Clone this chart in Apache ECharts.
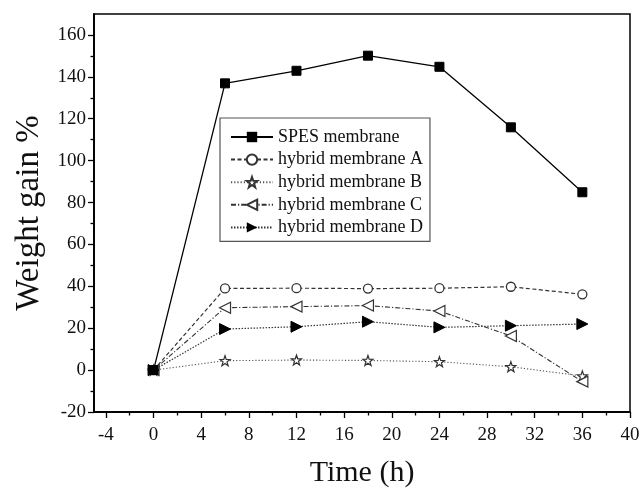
<!DOCTYPE html>
<html>
<head>
<meta charset="utf-8">
<script src="https://cdn.jsdelivr.net/npm/echarts@6/dist/echarts.min.js"></script>
<style>html,body{margin:0;padding:0;background:#fff}#main{width:640px;height:489px}</style>
</head>
<body>
<div id="main"></div>
<script>
// time points (h)
var times = [0, 6, 12, 18, 24, 30, 36];
// weight gain (%)
var spes = [0, 136.9, 142.9, 150.1, 144.8, 115.9, 84.9];
var hybridA = [0, 39.0, 39.1, 38.9, 39.1, 39.8, 36.2];
var hybridB = [0, 4.5, 4.8, 4.6, 4.0, 1.6, -2.8];
var hybridC = [0, 29.8, 30.3, 30.8, 28.2, 16.3, -5.5];
var hybridD = [0, 19.6, 20.7, 23.1, 20.4, 21.2, 22.0];
var names = ["SPES membrane", "hybrid membrane A", "hybrid membrane B", "hybrid membrane C", "hybrid membrane D"];

var xMajor = [-4, 0, 4, 8, 12, 16, 20, 24, 28, 32, 36, 40];
var xMinor = [-2, 2, 6, 10, 14, 18, 22, 26, 30, 34, 38];
var yMajor = [-20, 0, 20, 40, 60, 80, 100, 120, 140, 160];
var yMinor = [-10, 10, 30, 50, 70, 90, 110, 130, 150];

var font = "Liberation Serif";
var star = "path://M10,0L12.35,6.76L19.51,6.91L13.8,11.24L15.88,18.09L10,14L4.12,18.09L6.2,11.24L0.49,6.91L7.65,6.76Z";
var triLeft = "path://M0,5L10,0L10,10Z";
var triRight = "path://M0,0L10,5L0,10Z";

function pairs(vals) {
    return times.map(function(t, i) { return [t, vals[i]]; });
}

function axis(kind, major, minor, extra) {
    var base = {
        type: "value", min: kind == "x"? -5: -20, max: kind == "x"? 40: 170,
        splitLine: {show: false},
        axisLine: {show: true, onZero: false, lineStyle: {color: "#000", width: 1.5}},
    };
    var a = Object.assign({}, base, {
        axisTick: {show: true, inside: false, length: 6, customValues: major, lineStyle: {color: "#000", width: 1.3}},
        axisLabel: {customValues: major, color: "#111", fontFamily: font, fontSize: 19, margin: kind == "x"? 14: 8},
    }, extra);
    var b = Object.assign({}, base, {
        axisTick: {show: true, inside: false, length: 3.5, customValues: minor, lineStyle: {color: "#000", width: 1.3}},
        axisLabel: {show: false},
    }, kind == "x"? {position: "bottom"}: {position: "left"});
    return [a, b];
}

var chart = echarts.init(document.getElementById("main"));
chart.setOption({
    animation: false,
    backgroundColor: "#fff",
    grid: {left: 94, right: 10, top: 14, bottom: 77, show: true, borderColor: "#000", borderWidth: 1.5,
        containLabel: false, outerBoundsMode: "none"},
    legend: {
        orient: "vertical", left: 220, top: 118, data: names,
        itemWidth: 42, itemHeight: 13, itemGap: 4.6,
        padding: [10, 7, 5, 10],
        borderColor: "#555", borderWidth: 1.2,
        textStyle: {fontFamily: font, fontSize: 18, color: "#111"}
    },
    xAxis: axis("x", xMajor, xMinor, {
        position: "bottom", name: "Time (h)", nameLocation: "middle", nameGap: 46,
        nameTextStyle: {fontFamily: font, fontSize: 30, color: "#111"}
    }),
    yAxis: axis("y", yMajor, yMinor, {
        position: "left", name: "Weight gain %", nameLocation: "middle", nameGap: 48,
        nameTextStyle: {fontFamily: font, fontSize: 33, color: "#111"}
    }),
    series: [
        {name: names[0], type: "line", data: pairs(spes), z: 5,
            symbol: "rect", symbolSize: 9,
            lineStyle: {color: "#000", width: 1.3, type: "solid"},
            itemStyle: {color: "#000", borderColor: "#000"}},
        {name: names[1], type: "line", data: pairs(hybridA),
            symbol: "circle", symbolSize: 9,
            lineStyle: {color: "#333", width: 1.2, type: [4, 2.5]},
            itemStyle: {color: "#fff", borderColor: "#333", borderWidth: 1.3}},
        {name: names[2], type: "line", data: pairs(hybridB),
            symbol: star, symbolSize: 10,
            lineStyle: {color: "#555", width: 1.1, type: [1.2, 2]},
            itemStyle: {color: "#fff", borderColor: "#333", borderWidth: 1.2}},
        {name: names[3], type: "line", data: pairs(hybridC),
            symbol: triLeft, symbolSize: 11,
            lineStyle: {color: "#333", width: 1.1, type: [5, 2, 1.2, 2]},
            itemStyle: {color: "#fff", borderColor: "#333", borderWidth: 1.2}},
        {name: names[4], type: "line", data: pairs(hybridD),
            symbol: triRight, symbolSize: 11,
            lineStyle: {color: "#333", width: 1.2, type: [1.5, 1.5]},
            itemStyle: {color: "#000", borderColor: "#000"}}
    ]
});
</script>
</body>
</html>
